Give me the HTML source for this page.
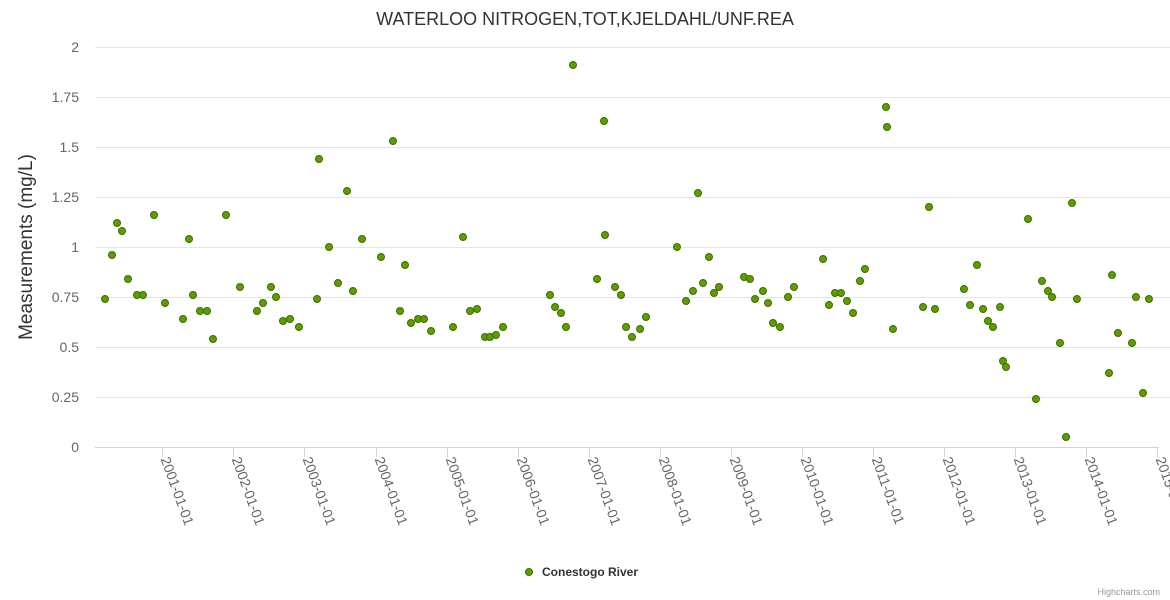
<!DOCTYPE html>
<html><head><meta charset="utf-8">
<style>
html,body{margin:0;padding:0;background:#fff;}
svg{display:block;font-family:"Liberation Sans",sans-serif;}
</style></head>
<body>
<svg id="chart" width="1170" height="600" xmlns="http://www.w3.org/2000/svg">
<text x="585" y="25" text-anchor="middle" font-size="18" fill="#333">WATERLOO NITROGEN,TOT,KJELDAHL/UNF.REA</text>
<text transform="translate(32,247) rotate(-90)" text-anchor="middle" font-size="19" fill="#333">Measurements (mg/L)</text>
<g id="grid"></g>
<g id="xaxis"></g>
<g id="points"></g>
<g>
<circle cx="529" cy="572" r="3.5" fill="#5c9e00" stroke="#3e6e00" stroke-width="1"/>
<text x="542" y="576" font-size="12" font-weight="bold" fill="#333">Conestogo River</text>
</g>
<text x="1160" y="595" text-anchor="end" font-size="9" fill="#999">Highcharts.com</text>
</svg>
<script>
const yTicks=[0,0.25,0.5,0.75,1,1.25,1.5,1.75,2];
const yTickLabels=["0","0.25","0.5","0.75","1","1.25","1.5","1.75","2"];
const xTickYears=[2001,2002,2003,2004,2005,2006,2007,2008,2009,2010,2011,2012,2013,2014,2015];
const xTickLabels=["2001-01-01","2002-01-01","2003-01-01","2004-01-01","2005-01-01","2006-01-01","2007-01-01","2008-01-01","2009-01-01","2010-01-01","2011-01-01","2012-01-01","2013-01-01","2014-01-01","2015-01-01"];
const dates=[2000.194,2000.292,2000.363,2000.433,2000.517,2000.644,2000.728,2000.883,2001.038,2001.291,2001.376,2001.432,2001.530,2001.629,2001.713,2001.896,2002.093,2002.332,2002.417,2002.529,2002.600,2002.698,2002.797,2002.923,2003.177,2003.205,2003.346,2003.472,2003.599,2003.683,2003.810,2004.077,2004.246,2004.345,2004.415,2004.499,2004.598,2004.682,2004.781,2005.090,2005.231,2005.330,2005.428,2005.541,2005.611,2005.695,2005.794,2006.455,2006.526,2006.610,2006.680,2006.779,2007.117,2007.215,2007.229,2007.370,2007.454,2007.525,2007.609,2007.722,2007.806,2008.242,2008.369,2008.467,2008.538,2008.608,2008.692,2008.763,2008.833,2009.185,2009.269,2009.340,2009.452,2009.523,2009.593,2009.691,2009.804,2009.888,2010.297,2010.381,2010.465,2010.550,2010.634,2010.719,2010.817,2010.887,2011.183,2011.197,2011.281,2011.704,2011.788,2011.872,2012.280,2012.365,2012.463,2012.548,2012.618,2012.688,2012.787,2012.829,2012.871,2013.181,2013.293,2013.378,2013.462,2013.519,2013.631,2013.716,2013.800,2013.870,2014.321,2014.363,2014.447,2014.644,2014.700,2014.799,2014.883];
const values=[0.74,0.96,1.12,1.08,0.84,0.76,0.76,1.16,0.72,0.64,1.04,0.76,0.68,0.68,0.54,1.16,0.80,0.68,0.72,0.80,0.75,0.63,0.64,0.60,0.74,1.44,1.00,0.82,1.28,0.78,1.04,0.95,1.53,0.68,0.91,0.62,0.64,0.64,0.58,0.60,1.05,0.68,0.69,0.55,0.55,0.56,0.60,0.76,0.70,0.67,0.60,1.91,0.84,1.63,1.06,0.80,0.76,0.60,0.55,0.59,0.65,1.00,0.73,0.78,1.27,0.82,0.95,0.77,0.80,0.85,0.84,0.74,0.78,0.72,0.62,0.60,0.75,0.80,0.94,0.71,0.77,0.77,0.73,0.67,0.83,0.89,1.70,1.60,0.59,0.70,1.20,0.69,0.79,0.71,0.91,0.69,0.63,0.60,0.70,0.43,0.40,1.14,0.24,0.83,0.78,0.75,0.52,0.05,1.22,0.74,0.37,0.86,0.57,0.52,0.75,0.27,0.74];

const NS="http://www.w3.org/2000/svg";
const L=95,R=1159,T=47,B=447;
function xS(yr){return 162.3+(yr-2001)*71.07;}
function yS(v){return B-(v/2)*(B-T);}
function mk(tag,attrs,parent){const e=document.createElementNS(NS,tag);for(const k in attrs)e.setAttribute(k,attrs[k]);parent.appendChild(e);return e;}
const grid=document.getElementById('grid');
yTicks.forEach((v,i)=>{
  const ln=mk('line',{x1:L,x2:i===0?R:1170,y1:yS(v)+0.5,y2:yS(v)+0.5,stroke:i===0?'#ccd6eb':'#e6e6e6','stroke-width':1},grid);
  
  
  const t=mk('text',{x:79,y:yS(v)+5,'text-anchor':'end','font-size':14,fill:'#666'},grid);
  t.textContent=yTickLabels[i];
  
  
});
const xa=document.getElementById('xaxis');
xTickYears.forEach((yr,i)=>{
  const x=Math.round(xS(yr))+0.5;
  const tk=mk('line',{x1:x,x2:x,y1:B,y2:B+10,stroke:'#ccd6eb'},xa);
  
  
  const t=mk('text',{transform:`translate(${x-2},${B+12}) rotate(70)`,'font-size':14,fill:'#666'},xa);
  t.textContent=xTickLabels[i];
  
  
});
const pts=document.getElementById('points');
dates.forEach((d,i)=>{
  const c=mk('circle',{cx:xS(d),cy:yS(values[i]),r:3.5,fill:'#5c9e00',stroke:'#3e6e00','stroke-width':1},pts);
  
  
});
</script>
</body></html>
